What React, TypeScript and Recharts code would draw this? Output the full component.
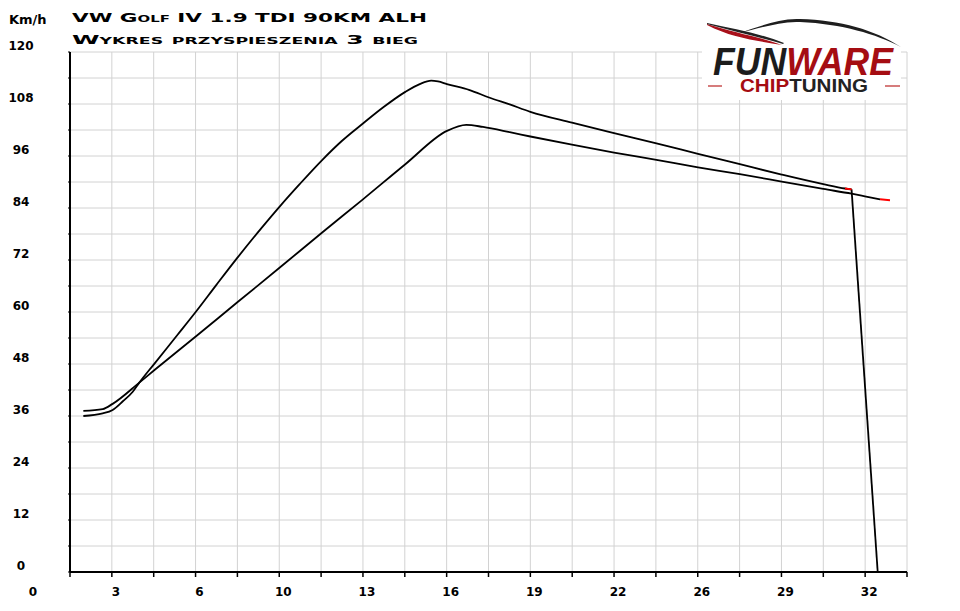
import { LineChart, Line, XAxis, YAxis, CartesianGrid } from 'recharts'

// time axis in the chart's own units (gridline every 1.6 s)
const xTicks = [1.6, 3.2, 4.8, 6.4, 8, 9.6, 11.2, 12.8, 14.4, 16, 17.6, 19.2, 20.8, 22.4, 24, 25.6, 27.2, 28.8, 30.4, 32, 33.6]
const xLabeled = [3.2, 6.4, 9.6, 12.8, 16, 19.2, 22.4, 25.6, 28.8, 32]
const yTicks = [0, 6, 12, 18, 24, 30, 36, 42, 48, 54, 60, 66, 72, 78, 84, 90, 96, 102, 108, 114, 120]
const yLabeled = [0, 12, 24, 36, 48, 60, 72, 84, 96, 108, 120]

const tuned = [
  { t: 2.11, v: 36.0 }, { t: 2.85, v: 36.6 }, { t: 3.23, v: 37.4 }, { t: 3.62, v: 39.4 },
  { t: 4.0, v: 41.6 }, { t: 4.25, v: 43.7 }, { t: 4.83, v: 48.1 }, { t: 5.72, v: 54.8 },
  { t: 6.42, v: 60.1 }, { t: 7.19, v: 66.2 }, { t: 8.01, v: 72.6 }, { t: 8.91, v: 79.3 },
  { t: 9.64, v: 84.5 }, { t: 10.38, v: 89.5 }, { t: 11.23, v: 95.0 }, { t: 11.98, v: 99.4 },
  { t: 12.8, v: 103.5 }, { t: 13.59, v: 107.3 }, { t: 14.42, v: 110.8 }, { t: 14.97, v: 112.6 },
  { t: 15.41, v: 113.4 }, { t: 15.67, v: 113.2 }, { t: 16.01, v: 112.6 }, { t: 16.88, v: 111.2 },
  { t: 17.62, v: 109.5 }, { t: 18.41, v: 107.9 }, { t: 19.2, v: 106.2 }, { t: 20.79, v: 103.7 },
  { t: 22.4, v: 101.3 }, { t: 24.02, v: 98.9 }, { t: 25.61, v: 96.5 }, { t: 27.21, v: 94.1 },
  { t: 28.81, v: 91.7 }, { t: 30.4, v: 89.5 }, { t: 31.23, v: 88.5 }, { t: 31.48, v: 88.3 },
]
const tunedDrop = [{ t: 31.48, v: 88.3 }, { t: 32.48, v: 0 }]
const tunedEnd = [{ t: 31.23, v: 88.5 }, { t: 31.48, v: 88.3 }]

const stock = [
  { t: 2.11, v: 37.2 }, { t: 2.85, v: 37.6 }, { t: 3.23, v: 38.8 }, { t: 4.25, v: 43.7 },
  { t: 4.83, v: 46.6 }, { t: 6.42, v: 54.4 }, { t: 8.01, v: 62.3 }, { t: 9.61, v: 70.2 },
  { t: 11.23, v: 78.3 }, { t: 12.8, v: 86.0 }, { t: 14.42, v: 94.1 }, { t: 16.01, v: 101.8 },
  { t: 16.75, v: 103.2 }, { t: 17.39, v: 102.7 }, { t: 18.41, v: 101.5 }, { t: 19.2, v: 100.5 },
  { t: 20.79, v: 98.6 }, { t: 22.4, v: 96.8 }, { t: 24.02, v: 95.1 }, { t: 25.61, v: 93.4 },
  { t: 27.21, v: 91.8 }, { t: 28.81, v: 90.1 }, { t: 30.4, v: 88.4 }, { t: 31.48, v: 87.3 },
  { t: 31.99, v: 86.7 }, { t: 32.57, v: 86.0 },
]
const stockEnd = [{ t: 32.57, v: 86.0 }, { t: 32.95, v: 85.8 }]

const labelFont = { fontFamily: 'DejaVu Sans', fontWeight: 700, fontSize: 12, fill: '#000' }

function XTick({ x, payload }: any) {
  if (!xLabeled.includes(payload.value)) return null
  return (
    <text x={x + 4} y={596} textAnchor="middle" {...labelFont}>
      {Math.round(payload.value)}
    </text>
  )
}

function YTick({ y, payload }: any) {
  if (!yLabeled.includes(payload.value)) return null
  return (
    <text x={21} y={y - 2.5} textAnchor="middle" {...labelFont}>
      {payload.value}
    </text>
  )
}

function Overlay() {
  return (
    <svg width={960} height={611} style={{ position: 'absolute', left: 0, top: 0, pointerEvents: 'none' }}>
      <text x={9} y={24} {...labelFont} fontSize={13}>Km/h</text>
      <text x={33} y={596} textAnchor="middle" {...labelFont}>0</text>
      <text x={72} y={22} fontFamily="DejaVu Sans" fontWeight={700} fontSize={13} textLength={355} lengthAdjust="spacingAndGlyphs"
        style={{ fontVariant: 'small-caps' }} fill="#000">VW Golf IV 1.9 TDI 90KM ALH</text>
      <text x={72} y={43.5} fontFamily="DejaVu Sans" fontWeight={700} fontSize={13} textLength={346} lengthAdjust="spacingAndGlyphs"
        style={{ fontVariant: 'small-caps' }} fill="#000">Wykres przyspieszenia 3 bieg</text>

      {/* logo */}
      <rect x={702} y={40} width={199} height={60} fill="#fff" />
      <path d="M707 24 C735 33, 760 37, 782 45 C758 41, 732 38, 707 25 Z" fill="#a8101a" />
      <path d="M707 23 C735 29, 762 34, 784 43 L783 44 C760 37, 735 32, 707 24 Z" fill="#222" />
      <path d="M738 33 C760 27, 778 18, 800 19 C840 20, 875 30, 901 47 C876 34, 842 24, 800 22 C778 21, 760 29, 738 33 Z" fill="#1e1e1e" />
      <text x={713} y={75} fontFamily="Liberation Sans" fontWeight={700} fontStyle="italic" fontSize={38}
        textLength={180} lengthAdjust="spacingAndGlyphs">
        <tspan fill="#1c1c1c">FUN</tspan><tspan fill="#a50d12">WARE</tspan>
      </text>
      <text x={740} y={92} fontFamily="Liberation Sans" fontWeight={700} fontSize={18}
        textLength={128} lengthAdjust="spacingAndGlyphs">
        <tspan fill="#a50d12">CHIP</tspan><tspan fill="#222">TUNING</tspan>
      </text>
      <line x1={708} y1={86} x2={722} y2={86} stroke="#c85050" strokeWidth={1.5} />
      <line x1={885} y1={86} x2={900} y2={86} stroke="#c85050" strokeWidth={1.5} />
    </svg>
  )
}

export default function App() {
  return (
    <div style={{ position: 'absolute', left: 0, top: 0, width: 960, height: 611, background: '#fff' }}>
      <LineChart width={960} height={611} margin={{ top: 52, right: 53, left: 0, bottom: 0 }}>
        <CartesianGrid stroke="#d2d2d2" strokeWidth={1} />
        <XAxis
          type="number"
          dataKey="t"
          domain={[1.6, 33.6]}
          ticks={xTicks}
          interval={0}
          allowDataOverflow
          height={39}
          tick={<XTick />}
          tickSize={5}
          axisLine={{ stroke: '#000', strokeWidth: 2 }}
          tickLine={{ stroke: '#000', strokeWidth: 1.5 }}
        />
        <YAxis
          type="number"
          domain={[0, 120]}
          ticks={yTicks}
          interval={0}
          width={70}
          tick={<YTick />}
          tickSize={2}
          axisLine={{ stroke: '#000', strokeWidth: 2 }}
          tickLine={{ stroke: '#000', strokeWidth: 1 }}
        />
        <Line data={stock} dataKey="v" type="monotone" stroke="#000" strokeWidth={1.8} dot={false} activeDot={false} isAnimationActive={false} />
        <Line data={tuned} dataKey="v" type="monotone" stroke="#000" strokeWidth={1.8} dot={false} activeDot={false} isAnimationActive={false} />
        <Line data={tunedDrop} dataKey="v" type="linear" stroke="#000" strokeWidth={1.8} dot={false} activeDot={false} isAnimationActive={false} />
        <Line data={tunedEnd} dataKey="v" type="linear" stroke="#ff0000" strokeWidth={2} dot={false} activeDot={false} isAnimationActive={false} />
        <Line data={stockEnd} dataKey="v" type="linear" stroke="#ff0000" strokeWidth={2} dot={false} activeDot={false} isAnimationActive={false} />
      </LineChart>
      <Overlay />
    </div>
  )
}
